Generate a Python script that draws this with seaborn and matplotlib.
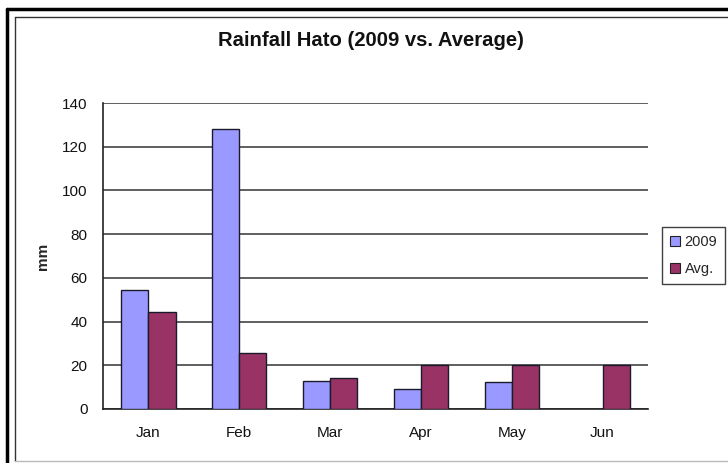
import numpy as np
import pandas as pd
import matplotlib
matplotlib.use("Agg")
import matplotlib.pyplot as plt
from matplotlib.lines import Line2D
from matplotlib.patches import Patch
import seaborn as sns

months = ["Jan", "Feb", "Mar", "Apr", "May", "Jun"]
rain_2009 = [54.5, 128, 13, 9, 12.5, np.nan]
rain_avg = [44.5, 25.5, 14, 20, 20, 20]
series_names = ["2009", "Avg."]
series_colors = ["#9999FF", "#993366"]
y_ticks = [0, 20, 40, 60, 80, 100, 120, 140]

df = pd.DataFrame({
    "month": months * 2,
    "mm": rain_2009 + rain_avg,
    "series": [series_names[0]] * len(months) + [series_names[1]] * len(months),
})

sns.set_style("white")
plt.rcParams["font.family"] = ["Liberation Sans", "DejaVu Sans"]

W, H = 728, 463
fig = plt.figure(figsize=(W / 100, H / 100), dpi=100)
ax = fig.add_axes([103 / W, 1 - 409 / H, (648 - 103) / W, (409 - 103) / H])

sns.barplot(data=df, x="month", y="mm", hue="series", order=months,
            hue_order=series_names, palette=series_colors, width=0.6,
            edgecolor="#1a1a2a", linewidth=1.0, saturation=1, ax=ax,
            legend=False, zorder=3)

ax.set_ylim(0, 140)
ax.set_yticks(y_ticks)
ax.set_xlim(-0.5, len(months) - 0.5)
ax.yaxis.grid(True, color="#444444", linewidth=1.2, zorder=0)
ax.set_axisbelow(True)
for s in ["top", "right"]:
    ax.spines[s].set_visible(False)
for s in ["left", "bottom"]:
    ax.spines[s].set_color("#222222")
    ax.spines[s].set_linewidth(1.2)

# x ticks sit between categories, like the original
ax.set_xticks(np.arange(len(months)))
ax.set_xticklabels(months)
ax.tick_params(axis="x", length=0, pad=12, labelsize=11, colors="#111111")
ax.set_xticks(np.arange(-0.5, len(months)), minor=True)
ax.tick_params(axis="x", which="minor", length=5, width=1.2, color="#222222", direction="out")
ax.tick_params(axis="y", length=5, width=1.2, color="#222222", direction="out",
               labelsize=11, pad=6, labelcolor="#111111")

ax.set_xlabel("")
ax.set_ylabel("mm", fontsize=11, fontweight="bold", labelpad=9)
fig.text(371 / W, 1 - 41 / H, "Rainfall Hato (2009 vs. Average)",
         ha="center", va="center", fontsize=14.6, fontweight="bold", color="#111111")

handles = [Patch(facecolor=c, edgecolor="#222222", linewidth=0.8) for c in series_colors]
leg = fig.legend(handles, series_names, loc="upper left",
                 bbox_to_anchor=(662 / W, 1 - 227 / H), frameon=True, fancybox=False,
                 fontsize=10.5, handlelength=0.7, handleheight=0.7, handletextpad=0.3,
                 borderpad=0.55, labelspacing=0.9, borderaxespad=0)
leg.get_frame().set_edgecolor("#111111")
leg.get_frame().set_linewidth(1.0)

# chart border
def px_line(x0, y0, x1, y1, **kw):
    fig.add_artist(Line2D([x0 / W, x1 / W], [1 - y0 / H, 1 - y1 / H],
                          transform=fig.transFigure, **kw))

px_line(7, 9, 728, 9, color="black", linewidth=2.5)
px_line(7, 9, 7, 463, color="black", linewidth=2.5)
px_line(15, 17, 728, 17, color="#333333", linewidth=1)
px_line(15, 17, 15, 461, color="#333333", linewidth=1)
px_line(15, 461, 728, 461, color="#bbbbbb", linewidth=1)

fig.savefig("out.png", dpi=100)
